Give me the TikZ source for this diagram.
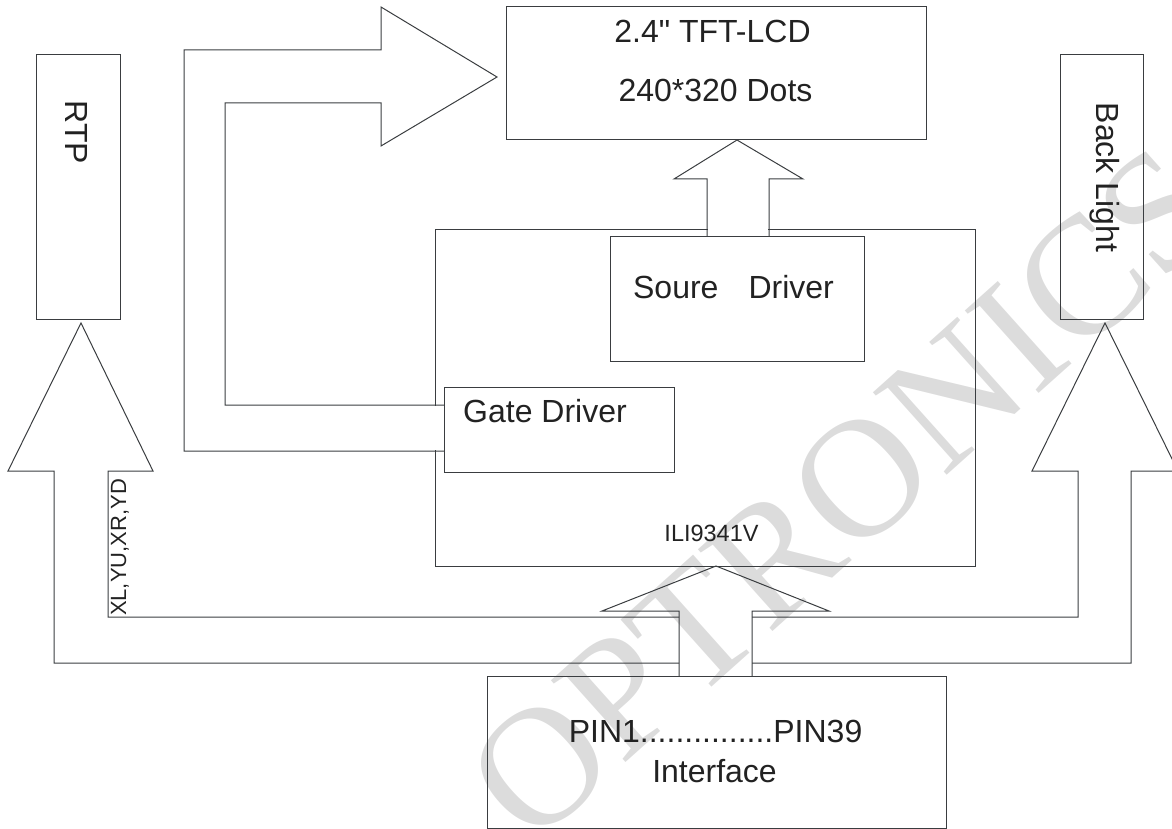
\documentclass[tikz,border=0pt]{standalone}
\usepackage{fontspec}
\setmainfont{Liberation Sans}[Ligatures=TeXOff]
\newfontfamily\wmfont{Liberation Serif}
\usetikzlibrary{decorations.text}
\definecolor{ln}{HTML}{3A3D40}
\definecolor{tx}{HTML}{222222}
\definecolor{wm}{HTML}{DCDCDC}
\begin{document}
\begin{tikzpicture}[x=1pt,y=-1pt,
  box/.style={draw=ln,line width=1pt,inner sep=0pt,outer sep=0pt,rectangle},
  txt/.style={text=tx,inner sep=0pt,outer sep=0pt,anchor=base,font=\fontsize{32}{38}\selectfont},
  arr/.style={draw=ln,line width=1pt,line join=miter},
  patch/.style={draw=white,line width=2pt}]
\useasboundingbox (0,0) rectangle (1172,829);
% watermark
\path[decorate,decoration={text along path,text align=center,text color=wm,
  text={|\wmfont\fontsize{169}{169}\selectfont|OPTRONICS}}] (434,935) -- (1328,135);
% boxes
\node[box,minimum width=420pt,minimum height=133pt] (lcd) at (716,73.5) {};
\node[box,minimum width=84pt,minimum height=264pt] (rtp) at (78,187) {};
\node[box,minimum width=83pt,minimum height=264pt] (bl) at (1101.5,187) {};
\node[box,minimum width=540pt,minimum height=337pt] (ili) at (705,397.5) {};
\node[box,minimum width=254pt,minimum height=125pt] (src) at (737,298.5) {};
\node[box,minimum width=230pt,minimum height=85pt] (gate) at (559,429.5) {};
\node[box,minimum width=459pt,minimum height=152pt] (intf) at (716.5,752) {};
% texts
\node[txt] (lcd1) at (712.5,43) {2.4" TFT-LCD};
\node[txt] (lcd2) at (715.5,102) {240*320 Dots};
\node[txt] (srct) at (733.5,298) {Soure\hspace{30pt}Driver};
\node[txt] (gatet) at (545,422) {Gate Driver};
\node[txt,font=\fontsize{23.5}{28}\selectfont] (ilit) at (711.5,541) {ILI9341V};
\node[txt] (pint) at (715.5,742) {PIN1...............PIN39};
\node[txt] (intft) at (714.5,782) {Interface};
\node[txt,rotate=-90] (rtpt) at (65,132.5) {RTP};
\node[txt,rotate=-90] (blt) at (1096,177.5) {Back Light};
\node[txt,rotate=90,font=\fontsize{22}{26}\selectfont] (xlt) at (126,547.5) {XL,YU,XR,YD};
% hide box edges under the arrow bodies
\draw[patch] (ili.west |- 0,406) -- (ili.west |- 0,450);
\draw[patch] (708,229) -- (768,229);
% gate driver -> LCD
\draw[arr] (gate.west |- 0,451) -- (184,451) -- (184,50) -- (381,50) -- (381,7)
  -- (497,77) -- (381,146) -- (381,103) -- (225,103) -- (225,405) -- (gate.west |- 0,405);
% source driver -> LCD
\draw[arr] (707,236) -- (707,179) -- (674,179) -- (src.north |- lcd.south) -- (803,179)
  -- (769,179) -- (769,236);
% interface -> ILI9341V
\draw[arr] (679,676) -- (679,611) -- (602,611) -- (716,566) -- (829,611) -- (752,611) -- (752,676);
% interface -> RTP
\draw[arr] (679,663) -- (54,663) -- (54,471) -- (8,471) -- (81,323) -- (153,471)
  -- (108,471) -- (108,617) -- (679,617);
% interface -> Back Light
\draw[arr] (752,617) -- (1078,617) -- (1078,471) -- (1032,471) -- (1105,323) -- (1178,471)
  -- (1131,471) -- (1131,663) -- (752,663);
\end{tikzpicture}
\end{document}
